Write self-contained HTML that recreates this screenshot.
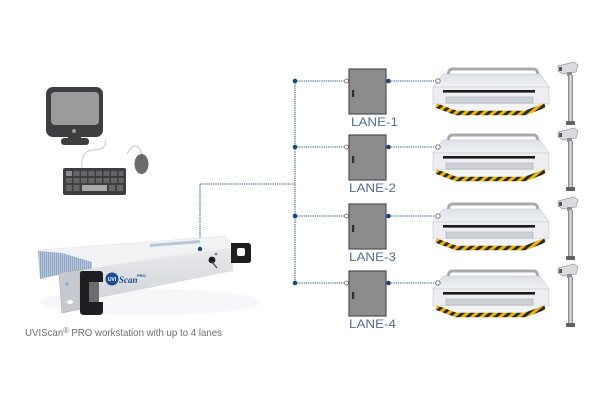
<!DOCTYPE html>
<html><head><meta charset="utf-8"><style>
html,body{margin:0;padding:0;background:#fff;}
svg{display:block;}
</style></head><body>
<svg width="600" height="400" viewBox="0 0 600 400" xmlns="http://www.w3.org/2000/svg">
<defs>
<pattern id="haz" patternUnits="userSpaceOnUse" width="6" height="6" patternTransform="rotate(50)">
<rect x="0" y="0" width="3" height="6" fill="#f0b400"/>
<rect x="3" y="0" width="3" height="6" fill="#2b2b2b"/>
</pattern>
<linearGradient id="topG" x1="0" y1="0" x2="0" y2="1">
<stop offset="0" stop-color="#dde1e6"/><stop offset="1" stop-color="#f1f3f5"/>
</linearGradient>
<linearGradient id="poleG" x1="0" y1="0" x2="1" y2="0">
<stop offset="0" stop-color="#6f7277"/><stop offset="0.45" stop-color="#e2e4e7"/><stop offset="1" stop-color="#85888d"/>
</linearGradient>
<linearGradient id="frontG" x1="0" y1="0" x2="0" y2="1">
<stop offset="0" stop-color="#e8eaed"/><stop offset="1" stop-color="#d0d3d8"/>
</linearGradient>
<pattern id="vent" patternUnits="userSpaceOnUse" width="2" height="2">
<rect width="2" height="2" fill="#b9c8dc"/><rect width="1" height="2" fill="#8ea6c6"/>
</pattern>
<g id="scanner">
<path d="M445 86 L449 71 Q450 69 453 69 L533 69 Q536 69 537 71 L541 86" fill="none" stroke="#a6aab0" stroke-width="3"/>
<polygon points="443,74 540,74 549,87 433,87" fill="url(#topG)" stroke="#c2c6cc" stroke-width="0.6"/>
<polygon points="433,87 549,87 549,104 433,104" fill="#eceef1" stroke="#c2c6cc" stroke-width="0.6"/>
<rect x="443" y="90" width="92" height="2.6" fill="#1c1c1c"/>
<rect x="446" y="97" width="87" height="6" fill="#cdd1d6" stroke="#aeb2b8" stroke-width="0.6"/>
<polygon points="435,104 546,104 526,112 456,112" fill="#f3f4f6"/>
<path d="M436 105.5 L456 113 L525 113 L545 105.5" fill="none" stroke="url(#haz)" stroke-width="4.5"/>
</g>
<g id="pole">
<polygon points="558,66 574,62 578,65 576,72 563,74 558,71" fill="#d9dbde" stroke="#95989d" stroke-width="0.7"/>
<rect x="559" y="67" width="3" height="4" fill="#555"/>
<rect x="567" y="72" width="5" height="4" fill="#8a8d92"/>
<rect x="568" y="75" width="5" height="47" fill="url(#poleG)"/>
<rect x="566" y="121" width="9" height="4" rx="1" fill="#5d6065"/>
</g>
<g id="lane">
<line x1="295" y1="81" x2="344" y2="81" stroke="#1f4f80" stroke-width="1.1" stroke-dasharray="1.2 1"/>
<line x1="389" y1="81" x2="436" y2="81" stroke="#1f4f80" stroke-width="1.1" stroke-dasharray="1.2 1"/>
<circle cx="295" cy="81" r="2.3" fill="#1b4677"/>
<circle cx="346.5" cy="81" r="2" fill="#fff" stroke="#666" stroke-width="0.8"/>
<rect x="349" y="69" width="37" height="45" fill="#8c8c8c" stroke="#4f4f4f" stroke-width="1.2"/>
<rect x="352" y="90" width="2.2" height="7" fill="#2e2e2e"/>
<circle cx="388.5" cy="81" r="2.3" fill="#1b4677"/>
</g>
</defs>

<!-- Monitor -->
<rect x="46" y="87" width="57" height="50" rx="7" fill="#3e3e40"/>
<rect x="51" y="92" width="48" height="33" rx="4" fill="#9b9b9d"/>
<circle cx="74" cy="131" r="2" fill="#9a9a9c"/>
<rect x="68" y="136" width="13" height="3" fill="#3e3e40"/>
<rect x="61" y="138" width="28" height="7" rx="3" fill="#3e3e40"/>
<!-- cables -->
<path d="M105 140 Q108 150 92 150 Q80 152 82 168" fill="none" stroke="#c8c8c8" stroke-width="1"/>
<path d="M142 156 Q140 145 134 146 Q130 148 127 154" fill="none" stroke="#c8c8c8" stroke-width="1"/>
<!-- keyboard -->
<rect x="63" y="168" width="63" height="27" rx="2" fill="#3e3e40"/>
<g fill="#666668">
<rect x="66" y="171" width="6" height="5" fill="#8a8a8c"/><rect x="73.5" y="171" width="6" height="5"/><rect x="81" y="171" width="6" height="5"/><rect x="88.5" y="171" width="6" height="5"/><rect x="96" y="171" width="6" height="5"/><rect x="103.5" y="171" width="6" height="5"/><rect x="111" y="171" width="6" height="5"/><rect x="118.5" y="171" width="5" height="5"/>
<rect x="66" y="178" width="6" height="5"/><rect x="73.5" y="178" width="6" height="5"/><rect x="81" y="178" width="6" height="5"/><rect x="88.5" y="178" width="6" height="5"/><rect x="96" y="178" width="6" height="5"/><rect x="103.5" y="178" width="6" height="5"/><rect x="111" y="178" width="6" height="5"/><rect x="118.5" y="178" width="5" height="5"/>
<rect x="66" y="185" width="6" height="6"/><rect x="73.5" y="185" width="6" height="6"/><rect x="82" y="185" width="25" height="6" fill="#a9a9ab"/><rect x="109" y="185" width="6" height="6"/><rect x="117" y="185" width="6" height="6"/>
</g>
<!-- mouse -->
<ellipse cx="141.5" cy="164" rx="7" ry="10" fill="#6c6c6e"/>
<line x1="141.5" y1="155" x2="141.5" y2="162" stroke="#555" stroke-width="0.6"/>

<!-- connectors from workstation -->
<line x1="200" y1="184" x2="295" y2="184" stroke="#1f4f80" stroke-width="1.1" stroke-dasharray="1.2 1"/>
<line x1="200" y1="184" x2="200" y2="249" stroke="#1f4f80" stroke-width="1.1" stroke-dasharray="1.2 1"/>
<line x1="295" y1="81" x2="295" y2="283" stroke="#1f4f80" stroke-width="1.1" stroke-dasharray="1.2 1"/>

<!-- workstation -->
<ellipse cx="150" cy="302" rx="110" ry="13" fill="#f6f7f8"/>
<polygon points="38,250 226,236 233,246 63,273" fill="#f1f2f4" stroke="#e0e2e5" stroke-width="0.5"/>
<polygon points="38,251 62,253 92,262 92,272 62,274 40,279" fill="url(#vent)"/>
<polygon points="150,244 200,240 200,243 150,247" fill="#b8c6d8"/>
<polygon points="63,273 233,247 233,271 63,305" fill="url(#frontG)"/>
<polygon points="59,273 80,270 80,309 62,313" fill="#c6cacf" stroke="#a9adb3" stroke-width="0.6"/>
<ellipse cx="70" cy="302" rx="3" ry="2" fill="#fff"/>
<circle cx="67" cy="284" r="1.6" fill="#8fa6c4"/>
<path d="M82 271 L100 271 Q103 271 103 275 L103 282 L89 282 L89 302 L103 302 L103 311 Q103 315 99 315 L84 315 Q80 315 80 311 L80 274 Q80 271 82 271 Z" fill="#1e1e20"/>
<rect x="89" y="282" width="10" height="20" fill="#6b6d70"/>
<path d="M231 243 L248 243 Q251 243 251 246 L251 260 Q251 263 248 263 L231 263 Z" fill="#1e1e20"/>
<rect x="237" y="248" width="8" height="8" rx="2" fill="#fff"/>
<circle cx="112" cy="279" r="6.5" fill="#1a4f8f"/>
<text x="112" y="281" font-family="Liberation Sans, sans-serif" font-size="5" font-weight="bold" fill="#fff" text-anchor="middle">UVI</text>
<text x="119" y="283" font-family="Liberation Serif, serif" font-size="9" font-style="italic" font-weight="bold" fill="#1a4f8f">Scan</text>
<text x="137" y="277" font-family="Liberation Sans, sans-serif" font-size="4" font-weight="bold" fill="#1a4f8f">PRO</text>
<circle cx="212" cy="260" r="3.4" fill="#1c1c1c"/>
<line x1="212" y1="262" x2="217" y2="268" stroke="#555" stroke-width="1.4"/>
<circle cx="216" cy="254" r="1.3" fill="#777"/>
<circle cx="200" cy="249" r="2.2" fill="#1b4677"/>

<text x="25" y="336" font-family="Liberation Sans, sans-serif" font-size="10.5" fill="#6e6e6e" textLength="197" lengthAdjust="spacingAndGlyphs">UVIScan<tspan font-size="8" dy="-3">®</tspan><tspan dy="3"> PRO workstation with up to 4 lanes</tspan></text>

<!-- lanes -->
<use href="#lane"/>
<use href="#lane" transform="translate(0,66)"/>
<use href="#lane" transform="translate(0,135)"/>
<use href="#lane" transform="translate(0,202)"/>

<use href="#scanner"/>
<use href="#scanner" transform="translate(0,66)"/>
<use href="#scanner" transform="translate(0,135)"/>
<use href="#scanner" transform="translate(0,202)"/>

<g fill="#fff" stroke="#666" stroke-width="0.8">
<circle cx="438" cy="81" r="2.2"/><circle cx="438" cy="147" r="2.2"/><circle cx="438" cy="216" r="2.2"/><circle cx="438" cy="283" r="2.2"/>
</g>

<use href="#pole"/>
<use href="#pole" transform="translate(0,66)"/>
<use href="#pole" transform="translate(0,135)"/>
<use href="#pole" transform="translate(0,202)"/>

<g font-family="Liberation Sans, sans-serif" font-size="12" fill="#4f6f93">
<text x="351" y="126" textLength="47" lengthAdjust="spacingAndGlyphs">LANE-1</text>
<text x="349" y="192" textLength="47" lengthAdjust="spacingAndGlyphs">LANE-2</text>
<text x="349" y="261" textLength="47" lengthAdjust="spacingAndGlyphs">LANE-3</text>
<text x="349" y="328" textLength="47" lengthAdjust="spacingAndGlyphs">LANE-4</text>
</g>
</svg>
</body></html>
